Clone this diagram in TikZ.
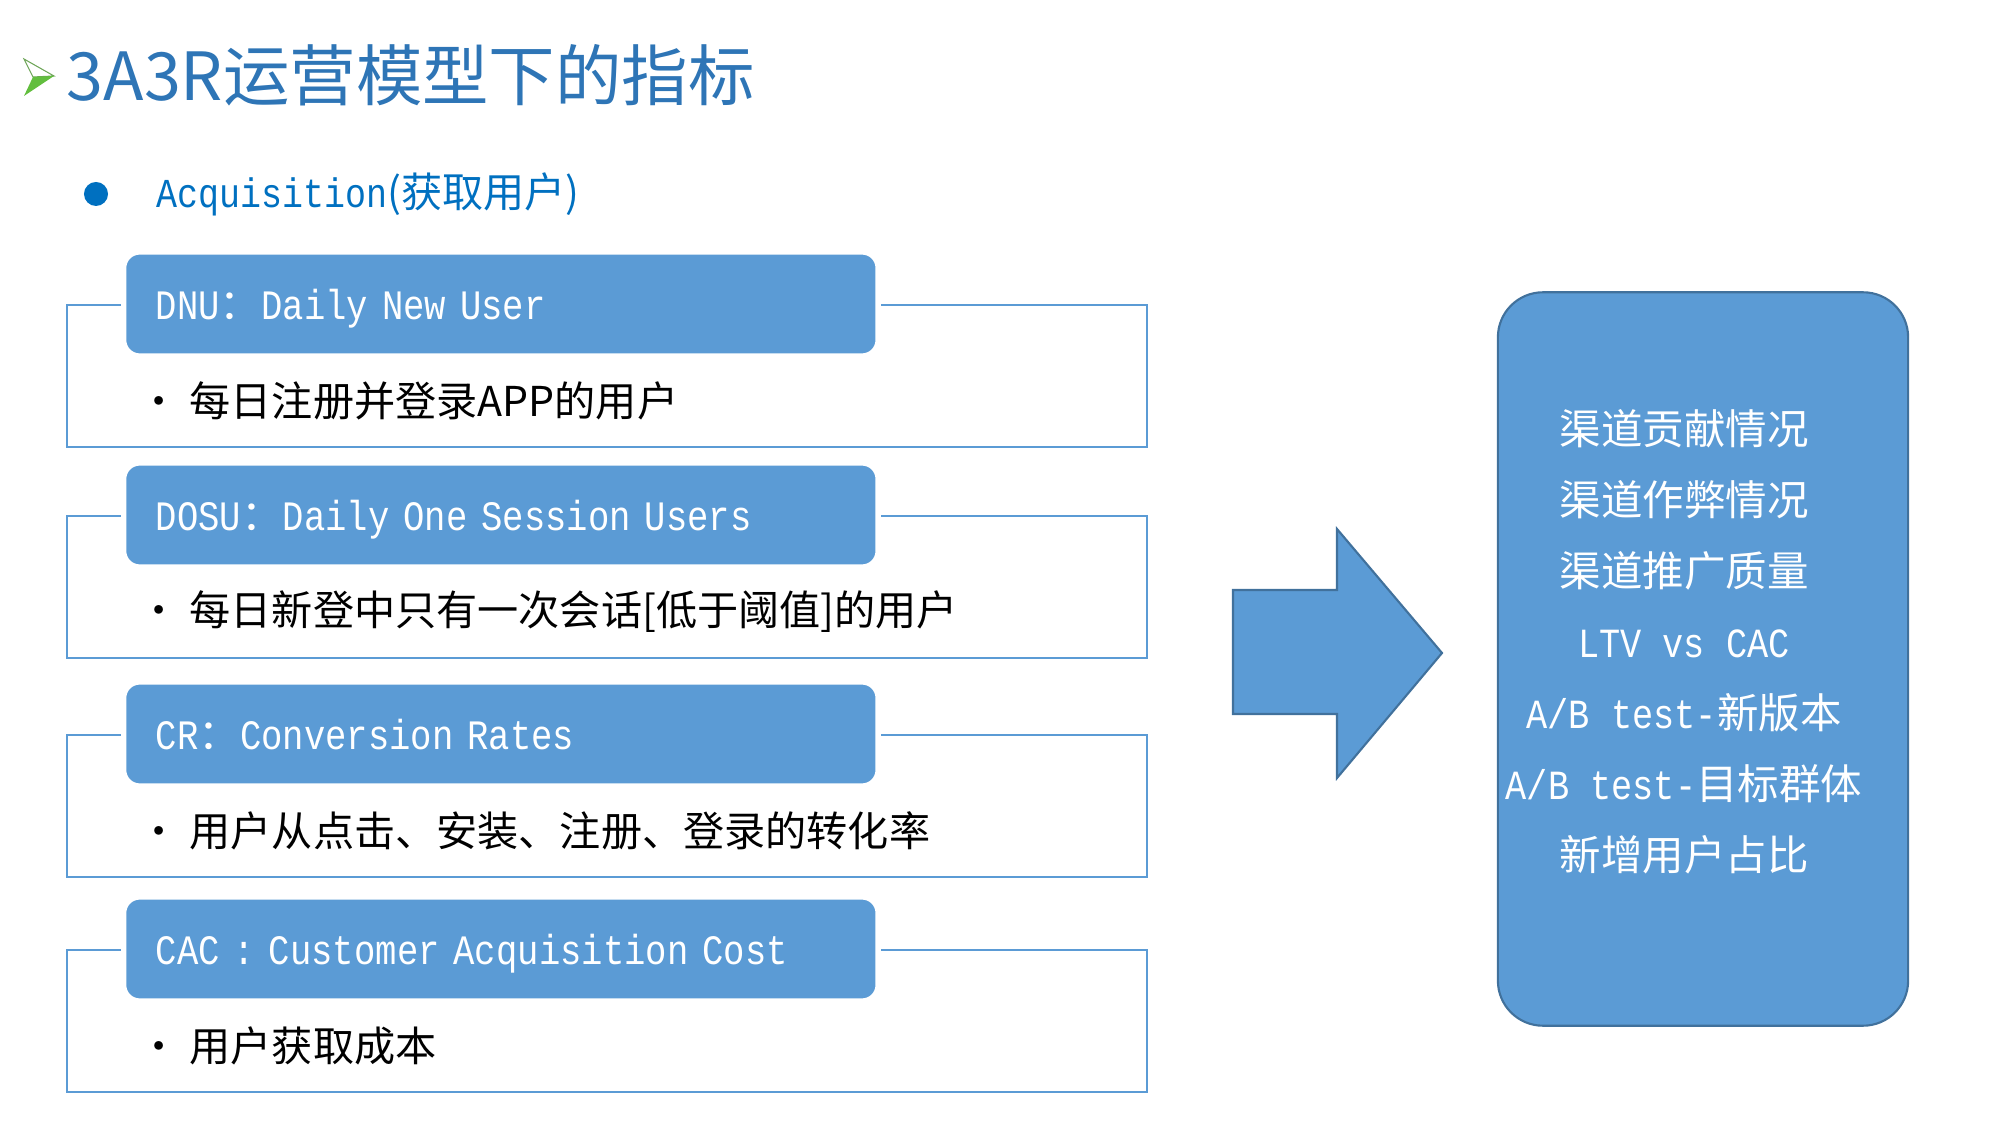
\documentclass[tikz,border=0pt]{standalone}
\usepackage{fontspec}
\setmainfont{Noto Sans CJK SC}
\newfontfamily\mono[FakeStretch=0.85]{Liberation Mono}
\usetikzlibrary{positioning}
\definecolor{boxblue}{HTML}{5B9BD5}
\definecolor{edgeblue}{HTML}{41719C}
\definecolor{titleblue}{HTML}{2E75B6}
\definecolor{dotblue}{HTML}{0070C0}
\definecolor{markgreen}{RGB}{98,190,62}
\newcommand{\dotitem}{\rlap{\hspace{-0.33em}•}\hspace{0.92em}}

\begin{document}
\begin{tikzpicture}[x=0.01cm, y=-0.01cm,
        framebox/.style={draw=boxblue, line width=0.6pt, minimum width=10.79cm, minimum height=1.42cm, anchor=north west, inner sep=0pt},
        headbox/.style={fill=boxblue, draw=white, line width=1.5pt, rounded corners=0.16cm, minimum height=1.04cm,
            text width=6.9cm, text depth=0pt, inner xsep=0.32cm, align=left, anchor=west, text=white, font=\fontsize{11.9pt}{14pt}\selectfont},
        itemtext/.style={anchor=west, inner sep=0pt, font=\fontsize{11.7pt}{14pt}\selectfont},
        sidebox/.style={fill=boxblue, draw=edgeblue, line width=0.6pt, rounded corners=0.45cm, minimum width=4.10cm, minimum height=7.33cm}]

        \useasboundingbox (0,0) rectangle (2000,1125);

        % title
        \filldraw[fill=white, draw=markgreen!60!gray, line width=0.3pt] (24,59) -- (54,76) -- (33,77) -- cycle;
        \fill[markgreen] (33,77) -- (54,76) -- (24,96) -- cycle;
        \node[anchor=west, inner sep=0pt, text=titleblue, font=\fontsize{18.9pt}{22pt}\selectfont] (title) at (66,75) {3A3R运营模型下的指标};

        \node[circle, fill=dotblue, minimum size=0.24cm, inner sep=0pt] (dot) at (96,194) {};
        \node[itemtext, text=dotblue, right=0.47cm of dot] (acq) {{\mono Acquisition}(获取用户)};

        % metric blocks
        \node[framebox] (f1) at (66,304) {};
        \node[headbox] (h1) at ([xshift=0.55cm]f1.north west) {{\mono DNU}：{\mono Daily New User}};
        \node[itemtext] (t1) at ([xshift=0.85cm, yshift=-0.97cm]f1.north west) {\dotitem 每日注册并登录APP的用户};

        \node[framebox] (f2) at (66,515) {};
        \node[headbox] (h2) at ([xshift=0.55cm]f2.north west) {{\mono DOSU}：{\mono Daily One Session Users}};
        \node[itemtext] (t2) at ([xshift=0.85cm, yshift=-0.97cm]f2.north west) {\dotitem 每日新登中只有一次会话[低于阈值]的用户};

        \node[framebox] (f3) at (66,734) {};
        \node[headbox] (h3) at ([xshift=0.55cm]f3.north west) {{\mono CR}：{\mono Conversion Rates}};
        \node[itemtext] (t3) at ([xshift=0.85cm, yshift=-0.97cm]f3.north west) {\dotitem 用户从点击、安装、注册、登录的转化率};

        \node[framebox] (f4) at (66,949) {};
        \node[headbox] (h4) at ([xshift=0.55cm]f4.north west) {{\mono CAC : Customer Acquisition Cost}};
        \node[itemtext] (t4) at ([xshift=0.85cm, yshift=-0.97cm]f4.north west) {\dotitem 用户获取成本};

        % arrow and summary
        \filldraw[fill=boxblue, draw=edgeblue, line width=0.6pt] (1233,590) -- (1337,590) -- (1337,529) -- (1442,653)
            -- (1337,778) -- (1337,714) -- (1233,714) -- cycle;

        \node[sidebox] (side) at (1703,659) {};
        \node[text=white, align=center, inner sep=0pt, font=\fontsize{11.8pt}{20.2pt}\selectfont] (sidetext)
            at ([xshift=-0.19cm, yshift=0.17cm]side.center) {渠道贡献情况\\渠道作弊情况\\渠道推广质量\\{\mono LTV vs CAC}\\
            {\mono A/B test-}新版本\\{\mono A/B test-}目标群体\\新增用户占比};
\end{tikzpicture}
\end{document}
